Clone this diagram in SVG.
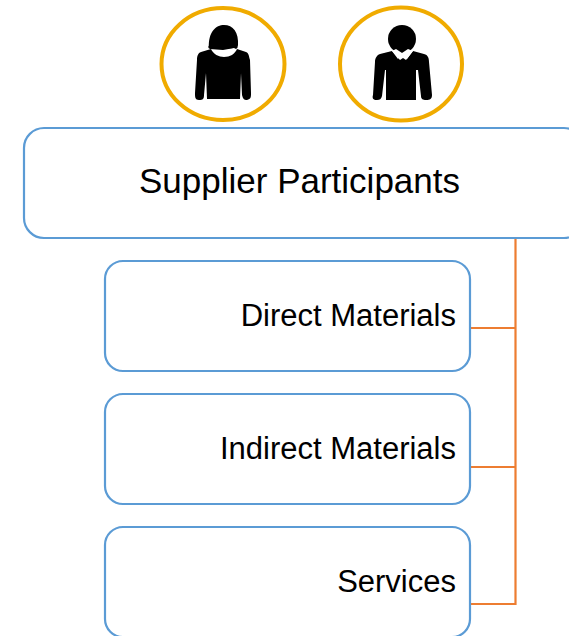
<svg xmlns="http://www.w3.org/2000/svg" width="569" height="636" viewBox="0 0 569 636">
<style>
.box{fill:#fff;stroke:#5b9bd5;stroke-width:2.2}
.conn{fill:none;stroke:#ed7d31;stroke-width:2.2}
.ring{fill:#fff;stroke:#f0ab00;stroke-width:4}
.fig{fill:#000}
text{font-family:"Liberation Sans",Arial,sans-serif;fill:#000}
.big{font-size:35px}
.sm{font-size:31px}
</style>
<rect width="569" height="636" fill="#fff"/>
<g id="connectors">
<path class="conn" d="M515.500 238V604H470M470 328H515.500M470 467H515.500"/>
</g>
<g id="person-female">
<ellipse class="ring" cx="223" cy="64" rx="61.500" ry="56"/>
<path class="fig" d="M209 48C208 32 216 25 224 25C233 25 239 32 238 46C238 45 236 47 233 48C228 49 217 49 209 48Z"/>
<path class="fig" d="M210 49C206 47 209 42 224 42C238 42 240 47 236 49L234 48L223 50Z"/>
<path class="fig" d="M211 49C213 54 219 57 224 57C230 57 235 54 237 49L246 52C249 53 249 57 250 60L251 93C251 97 251 99 247 100C244 100 243 99 242 95L241 73L240 99H207L206 73L204 95C204 99 203 100 199 100C195 100 195 97 195 93L197 60C197 56 198 53 201 52Z"/>
</g>
<g id="person-male">
<ellipse class="ring" cx="401" cy="64" rx="61" ry="56.500"/>
<circle class="fig" cx="402" cy="39" r="14"/>
<path class="fig" d="M392 51L400 60L403 58L406 60L413 51L424 54C428 55 429 58 429 62L432 95C432 99 430 100 426 100C423 100 421 99 421 96L418 70H416V100H386V70H385L382 96C381 99 380 100 377 100C373 100 372 98 373 95L375 62C375 58 377 55 380 54Z"/>
<path fill="#fff" d="M392 51L396 49L402 53L408 49L413 51L407 59L402 54L398 59Z"/>
</g>
<g id="supplier-participants">
<rect class="box" x="24" y="128" width="560" height="110" rx="20"/>
<text class="big" x="299.500" y="193" text-anchor="middle">Supplier Participants</text>
</g>
<g id="direct-materials">
<rect class="box" x="105" y="261" width="365" height="110" rx="18"/>
<text class="sm" x="456" y="326" text-anchor="end">Direct Materials</text>
</g>
<g id="indirect-materials">
<rect class="box" x="105" y="394" width="365" height="110" rx="18"/>
<text class="sm" x="456" y="459" text-anchor="end">Indirect Materials</text>
</g>
<g id="services">
<rect class="box" x="105" y="527" width="365" height="110" rx="18"/>
<text class="sm" x="456" y="592" text-anchor="end">Services</text>
</g>
</svg>
